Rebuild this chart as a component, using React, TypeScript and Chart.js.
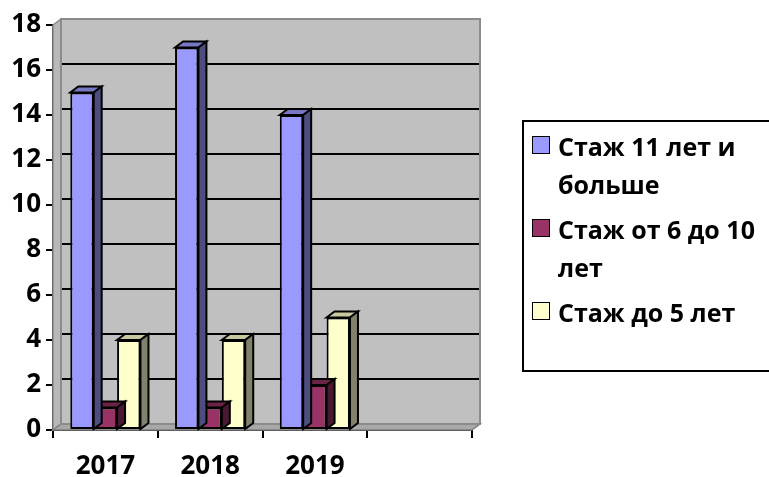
import React, { useEffect, useRef } from "react";
import { Chart, registerables } from "chart.js";

Chart.register(...registerables);

const categories = ["2017", "2018", "2019", ""];
const seriesNames = ["Стаж 11 лет и больше", "Стаж от 6 до 10 лет", "Стаж до 5 лет"];
const seniorValues = [15, 17, 14];
const middleValues = [1, 1, 2];
const juniorValues = [4, 4, 5];
const yMin = 0;
const yMax = 18;
const yStep = 2;

const frontColors = ["#9999FF", "#993366", "#FFFFCC"];
const topColors = ["#7777C4", "#6B2347", "#C9C9A0"];
const sideColors = ["#4D4D80", "#4A1830", "#82826A"];

const DX = 8;
const DY = -6;
const FONT = "'Open Sans', 'Noto Sans', sans-serif";

function poly(ctx: CanvasRenderingContext2D, pts: number[][], fill: string, stroke: string, lw: number) {
  ctx.beginPath();
  ctx.moveTo(pts[0][0], pts[0][1]);
  for (let i = 1; i < pts.length; i++) ctx.lineTo(pts[i][0], pts[i][1]);
  ctx.closePath();
  ctx.fillStyle = fill;
  ctx.fill();
  ctx.lineWidth = lw;
  ctx.strokeStyle = stroke;
  ctx.lineJoin = "miter";
  ctx.stroke();
}

const depthPlugin = {
  id: "depth3d",
  beforeDatasetsDraw(chart: any) {
    const { ctx, chartArea: a, scales } = chart;
    const ys = scales.y;
    ctx.save();
    poly(ctx, [[a.left, a.top], [a.left + DX, a.top + DY], [a.left + DX, a.bottom + DY], [a.left, a.bottom]], "#B8B8B8", "#8C8C8C", 1.5);
    poly(ctx, [[a.left, a.bottom], [a.left + DX, a.bottom + DY], [a.right + DX, a.bottom + DY], [a.right, a.bottom]], "#A8A8A8", "#808080", 1.5);
    ctx.fillStyle = "#C0C0C0";
    ctx.fillRect(a.left + DX, a.top + DY, a.right - a.left, a.bottom - a.top);
    ctx.strokeStyle = "#000";
    ctx.lineWidth = 2;
    ys.ticks.forEach((t: any) => {
      if (t.value <= yMin || t.value >= yMax) return;
      const py = Math.round(ys.getPixelForValue(t.value) + DY);
      ctx.beginPath();
      ctx.moveTo(a.left + DX, py);
      ctx.lineTo(a.right + DX, py);
      ctx.stroke();
    });
    ctx.strokeStyle = "#8C8C8C";
    ctx.lineWidth = 2;
    ctx.strokeRect(a.left + DX, a.top + DY, a.right - a.left, a.bottom - a.top);
    ctx.restore();
  },
  afterDatasetDraw(chart: any, args: any) {
    const { ctx } = chart;
    const i = args.index;
    ctx.save();
    args.meta.data.forEach((bar: any) => {
      if (bar.skip) return;
      const { x, y, base, width } = bar.getProps(["x", "y", "base", "width"], true);
      const l = x - width / 2;
      const r = x + width / 2;
      poly(ctx, [[l, y], [l + DX, y + DY], [r + DX, y + DY], [r, y]], topColors[i], "#000", 2);
      poly(ctx, [[r, y], [r + DX, y + DY], [r + DX, base + DY], [r, base]], sideColors[i], "#000", 2);
    });
    ctx.restore();
  },
};

export default function App() {
  const canvasRef = useRef<HTMLCanvasElement>(null);

  useEffect(() => {
    if (!canvasRef.current) return;
    const values = [seniorValues, middleValues, juniorValues];
    const chart = new Chart(canvasRef.current, {
      type: "bar",
      data: {
        labels: categories,
        datasets: values.map((v, i) => ({
          label: seriesNames[i],
          data: v,
          backgroundColor: frontColors[i],
          borderColor: "#000",
          borderWidth: 2,
          borderSkipped: false,
          categoryPercentage: 0.67,
          barPercentage: 1,
        })),
      },
      options: {
        animation: false,
        responsive: true,
        maintainAspectRatio: false,
        layout: { padding: { top: 25, right: 297, left: 0, bottom: 0 } },
        plugins: {
          legend: { display: false },
          tooltip: { enabled: false },
        },
        scales: {
          x: {
            offset: true,
            grid: {
              offset: true,
              drawOnChartArea: false,
              drawTicks: true,
              tickLength: 8,
              color: "#000",
              lineWidth: 2,
            },
            border: { display: true, color: "#000", width: 2 },
            ticks: {
              color: "#000",
              padding: 13,
              font: { family: FONT, size: 26, weight: "bold" },
            },
            afterFit: (s: any) => {
              s.height = 47;
            },
          },
          y: {
            min: yMin,
            max: yMax,
            ticks: {
              stepSize: yStep,
              color: "#000",
              padding: 5,
              font: { family: FONT, size: 26, weight: "bold" },
            },
            grid: {
              drawOnChartArea: false,
              drawTicks: true,
              tickLength: 7,
              color: "#000",
              lineWidth: 2,
            },
            border: { display: true, color: "#000", width: 2 },
            afterFit: (s: any) => {
              s.width = 53;
            },
          },
        },
      },
      plugins: [depthPlugin],
    });
    return () => chart.destroy();
  }, []);

  return (
    <div style={{ position: "fixed", left: 0, top: 0, width: 769, height: 477, overflow: "hidden", background: "#fff" }}>
      <div style={{ position: "absolute", left: 0, top: 0, width: 769, height: 477 }}>
        <canvas ref={canvasRef} />
      </div>
      <div
        style={{
          position: "absolute",
          left: 522,
          top: 120,
          width: 270,
          height: 252,
          border: "2px solid #000",
          boxSizing: "border-box",
          fontFamily: FONT,
          fontWeight: 700,
          fontSize: 25,
          color: "#000",
          paddingTop: 5,
        }}
      >
        {seriesNames.map((name, i) => (
          <div key={name} style={{ display: "flex", alignItems: "flex-start", marginBottom: 7 }}>
            <span
              style={{
                display: "inline-block",
                width: 18,
                height: 18,
                border: "1.5px solid #000",
                boxSizing: "border-box",
                background: frontColors[i],
                marginLeft: 8,
                marginTop: 9,
                flex: "none",
              }}
            />
            <span style={{ marginLeft: 8, width: 210, lineHeight: "38px" }}>{name}</span>
          </div>
        ))}
      </div>
    </div>
  );
}
